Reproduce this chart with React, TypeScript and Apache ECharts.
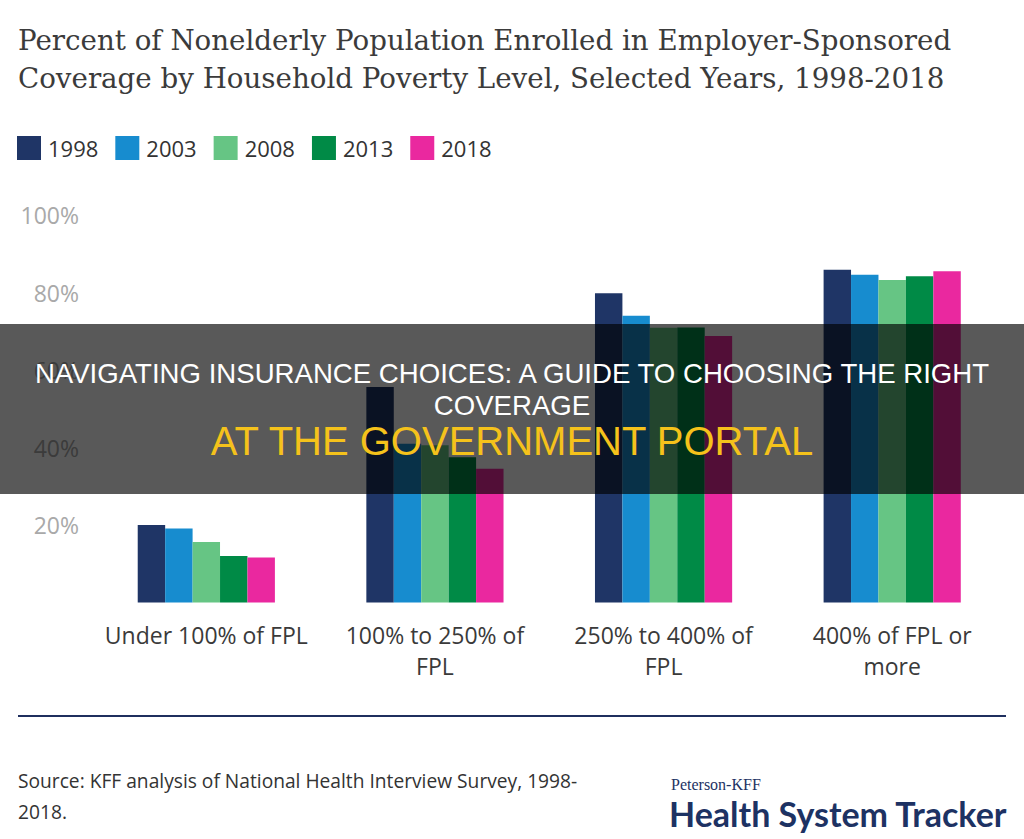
import React, { useEffect, useRef } from "react";
import * as echarts from "echarts";

const categories = [
  "Under 100% of FPL",
  "100% to 250% of\nFPL",
  "250% to 400% of\nFPL",
  "400% of FPL or\nmore",
];
const years = ["1998", "2003", "2008", "2013", "2018"];
const values1998 = [20.0, 55.6, 79.8, 85.9];
const values2003 = [19.1, 41.0, 74.0, 84.6];
const values2008 = [15.6, 40.6, 70.9, 83.2];
const values2013 = [12.0, 37.5, 71.0, 84.2];
const values2018 = [11.6, 34.5, 68.8, 85.5];
const yTickMax = 100;
const yTickStep = 20;

const colors = ["#1f3566", "#178ccf", "#66c584", "#008a46", "#ea289f"];
const seriesValues = [values1998, values2003, values2008, values2013, values2018];

const titleLines = [
  "Percent of Nonelderly Population Enrolled in Employer-Sponsored",
  "Coverage by Household Poverty Level, Selected Years, 1998-2018",
];
const sourceLines = [
  "Source: KFF analysis of National Health Interview Survey, 1998-",
  "2018.",
];
const overlayLines = [
  "NAVIGATING INSURANCE CHOICES: A GUIDE TO CHOOSING THE RIGHT",
  "COVERAGE",
];
const overlaySub = "AT THE GOVERNMENT PORTAL";

const SANS = "'Open Sans', sans-serif";

export default function App() {
  const ref = useRef<HTMLDivElement>(null);
  useEffect(() => {
    document.body.style.margin = "0";
    const chart = echarts.init(ref.current!, null, { renderer: "svg" });
    const txt = (
      text: string,
      x: number,
      y: number,
      fontSize: number,
      fill: string,
      fontFamily: string,
      align = "left",
      fontWeight: any = "normal",
      z = 10
    ) => ({
      type: "text",
      x,
      y,
      z,
      style: {
        text,
        fill,
        fontSize,
        fontFamily,
        fontWeight,
        textAlign: align,
        align,
        textVerticalAlign: "middle",
        verticalAlign: "middle",
      },
    });
    chart.setOption({
      animation: false,
      backgroundColor: "#ffffff",
      legend: {
        left: 17,
        top: 136,
        padding: 0,
        itemWidth: 24,
        itemHeight: 24,
        itemGap: 17,
        icon: "rect",
        data: years,
        textStyle: {
          fontSize: 22,
          fontFamily: SANS,
          color: "#333333",
          padding: [0, 0, 0, 2],
        },
      },
      grid: { left: 92, right: 17.5, top: 215, bottom: 236.5 },
      xAxis: {
        type: "category",
        data: categories,
        axisLine: { show: false },
        axisTick: { show: false },
        axisLabel: {
          fontSize: 23,
          fontFamily: SANS,
          color: "#3a3a3a",
          lineHeight: 31,
          margin: 17,
          interval: 0,
        },
      },
      yAxis: {
        type: "value",
        min: 0,
        max: yTickMax,
        interval: yTickStep,
        splitLine: { show: false },
        axisLine: { show: false },
        axisTick: { show: false },
        axisLabel: {
          fontSize: 23,
          fontFamily: SANS,
          color: "#a9a9a9",
          margin: 13,
          formatter: (v: number) => (v === 0 ? "" : v + "%"),
        },
      },
      series: years.map((y, i) => ({
        name: y,
        type: "bar",
        data: seriesValues[i],
        barGap: "0%",
        barCategoryGap: "40%",
        itemStyle: { color: colors[i] },
      })),
      graphic: [
        txt(titleLines[0], 18, 40, 27.7, "#3b3b3b", "'DejaVu Serif', serif"),
        txt(titleLines[1], 18, 78, 27.7, "#3b3b3b", "'DejaVu Serif', serif"),
        {
          type: "line",
          shape: { x1: 18, y1: 716, x2: 1006, y2: 716 },
          style: { stroke: "#1f2f5e", lineWidth: 2 },
        },
        txt(sourceLines[0], 18, 780, 19.2, "#333333", SANS),
        txt(sourceLines[1], 18, 811, 19.2, "#333333", SANS),
        txt("Peterson-KFF", 671, 784, 16, "#1d3263", "'Liberation Serif', serif"),
        txt("Health System Tracker", 669, 813, 34, "#1d3263", "Lato, sans-serif", "left", "bold"),
        {
          type: "rect",
          z: 100,
          shape: { x: 0, y: 324, width: 1024, height: 170 },
          style: { fill: "rgba(0,0,0,0.65)" },
        },
        txt(overlayLines[0], 512, 373, 27.6, "#ffffff", "'Liberation Sans', Arial, sans-serif", "center", "normal", 101),
        txt(overlayLines[1], 512, 405, 27.6, "#ffffff", "'Liberation Sans', Arial, sans-serif", "center", "normal", 101),
        txt(overlaySub, 512, 441, 40, "#f5c21b", "'Liberation Sans', Arial, sans-serif", "center", "normal", 101),
      ],
    });
    return () => chart.dispose();
  }, []);
  return <div ref={ref} style={{ width: 1024, height: 839 }} />;
}
